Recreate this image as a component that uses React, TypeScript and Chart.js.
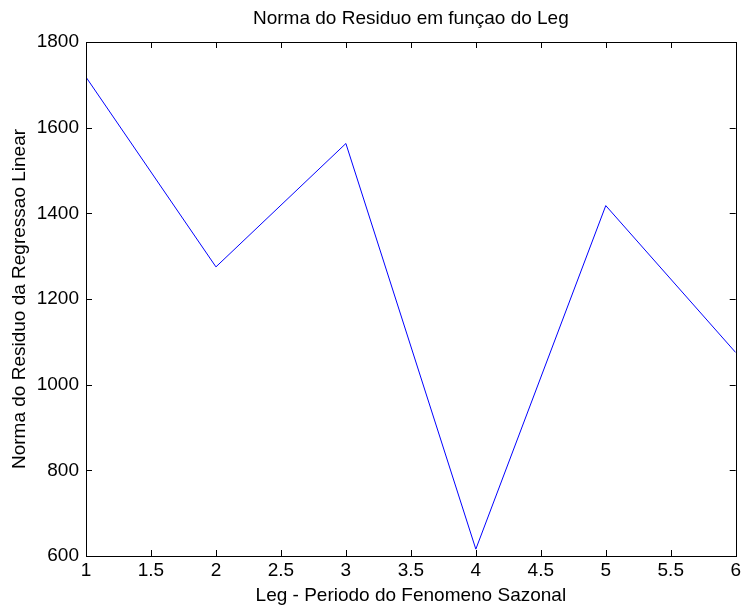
import React, { useEffect, useRef } from "react";
import { Chart, registerables } from "chart.js";

Chart.register(...registerables);

const legValues = [1, 2, 3, 4, 5, 6];
const residualNorms = [1718, 1275, 1563, 616, 1418, 1075];
const xTicks = [1, 1.5, 2, 2.5, 3, 3.5, 4, 4.5, 5, 5.5, 6];
const yTicks = [600, 800, 1000, 1200, 1400, 1600, 1800];

const chartTitle = "Norma do Residuo em funçao do Leg";
const xTitle = "Leg - Periodo do Fenomeno Sazonal";
const yTitle = "Norma do Residuo da Regressao Linear";

const FONT = "'Liberation Sans', Arial, Helvetica, sans-serif";
const FS = 19;

const boxTicksPlugin = {
  id: "boxTicks",
  afterDatasetsDraw(chart: any) {
    const { ctx, chartArea } = chart;
    const { left, right, top, bottom } = chartArea;
    const xs = chart.scales.x;
    const ys = chart.scales.y;
    const len = 6;
    ctx.save();
    ctx.strokeStyle = "#000";
    ctx.lineWidth = 1;
    ctx.beginPath();
    xTicks.forEach((v) => {
      const px = Math.round(xs.getPixelForValue(v)) + 0.5;
      ctx.moveTo(px, bottom);
      ctx.lineTo(px, bottom - len);
      ctx.moveTo(px, top);
      ctx.lineTo(px, top + len);
    });
    yTicks.forEach((v) => {
      const py = Math.round(ys.getPixelForValue(v)) + 0.5;
      ctx.moveTo(left, py);
      ctx.lineTo(left + len, py);
      ctx.moveTo(right, py);
      ctx.lineTo(right - len, py);
    });
    ctx.stroke();
    ctx.strokeRect(Math.round(left) + 0.5, Math.round(top) + 0.5, Math.round(right - left), Math.round(bottom - top));
    // title centred over the plot area
    ctx.fillStyle = "#000";
    ctx.font = `${FS}px ${FONT}`;
    ctx.textAlign = "center";
    ctx.textBaseline = "middle";
    ctx.fillText(chartTitle, (left + right) / 2, 19);
    ctx.restore();
  },
};

export default function App() {
  const ref = useRef<HTMLCanvasElement | null>(null);
  useEffect(() => {
    if (!ref.current) return;
    const chart = new Chart(ref.current, {
      type: "line",
      data: {
        datasets: [
          {
            data: legValues.map((x, i) => ({ x, y: residualNorms[i] })),
            borderColor: "#0000ff",
            borderWidth: 1,
            pointRadius: 0,
            tension: 0,
            fill: false,
          },
        ],
      },
      options: {
        responsive: false,
        animation: false,
        devicePixelRatio: 1,
        layout: { padding: { left: 0, right: 7, top: 42, bottom: 0 } },
        plugins: {
          legend: { display: false },
          tooltip: { enabled: false },
          title: { display: false },
        },
        scales: {
          x: {
            type: "linear",
            min: 1,
            max: 6,
            afterBuildTicks: (s: any) => {
              s.ticks = xTicks.map((v) => ({ value: v }));
            },
            afterFit: (s: any) => {
              s.height = 51;
            },
            ticks: {
              color: "#000",
              font: { family: FONT, size: FS },
              padding: 3,
              maxRotation: 0,
              autoSkip: false,
              callback: (v: any) => String(v),
            },
            grid: { display: false, drawTicks: false },
            border: { display: false },
            title: {
              display: true,
              text: xTitle,
              color: "#000",
              font: { family: FONT, size: FS },
              padding: { top: 0, bottom: 0 },
            },
          },
          y: {
            type: "linear",
            min: 600,
            max: 1800,
            afterBuildTicks: (s: any) => {
              s.ticks = yTicks.map((v) => ({ value: v }));
            },
            afterFit: (s: any) => {
              s.width = 86;
            },
            ticks: {
              color: "#000",
              font: { family: FONT, size: FS },
              padding: 7,
              autoSkip: false,
              callback: (v: any) => String(v),
            },
            grid: { display: false, drawTicks: false },
            border: { display: false },
            title: {
              display: true,
              text: yTitle,
              color: "#000",
              font: { family: FONT, size: FS },
              padding: { top: 8, bottom: 0 },
            },
          },
        },
      },
      plugins: [boxTicksPlugin],
    });
    return () => chart.destroy();
  }, []);
  return (
    <div style={{ position: "fixed", left: 0, top: 0, width: 744, height: 607, background: "#fff" }}>
      <canvas ref={ref} width={744} height={607} style={{ width: 744, height: 607 }} />
    </div>
  );
}
